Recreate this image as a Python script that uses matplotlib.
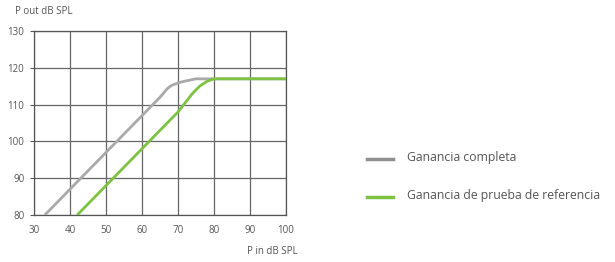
import matplotlib
matplotlib.use("Agg")
import matplotlib.pyplot as plt

# curve data
full_x = [33, 37, 40, 45, 50, 55, 60, 65, 67, 68, 70, 72, 75, 80, 100]
full_y = [80, 84, 87, 92, 97, 102, 107, 112, 114.3, 115.1, 115.9, 116.4, 117, 117, 117]
ref_x = [42, 45, 50, 55, 60, 65, 70, 72, 74, 76, 78, 80, 100]
ref_y = [80, 83, 88, 93, 98, 103, 108, 110.5, 113, 115, 116.3, 117, 117]

labels = ["Ganancia completa", "Ganancia de prueba de referencia"]
grey = "#a9a9a9"
green = "#7dc242"
txt = "#555555"

plt.rcParams["font.family"] = ["Open Sans", "DejaVu Sans"]

fig = plt.figure(figsize=(6.15, 2.62), dpi=100)
ax = fig.add_axes([34 / 615, 1 - 215 / 262, 252 / 615, 184 / 262])

ax.plot(full_x, full_y, color=grey, lw=2.0, solid_capstyle="butt", zorder=3)
ax.plot(ref_x, ref_y, color=green, lw=2.0, solid_capstyle="butt", zorder=3)

ax.set_xlim(30, 100)
ax.set_ylim(80, 130)
ax.set_xticks(range(30, 101, 10))
ax.set_yticks(range(80, 131, 10))
ax.grid(True, color="#666666", lw=0.9)
for s in ax.spines.values():
    s.set_color("#555555")
    s.set_linewidth(0.9)
ax.tick_params(labelsize=7, colors=txt, length=3, width=0.8, pad=4)
ax.tick_params(axis="x", length=0, pad=7)

fig.text(15 / 615, 1 - 12 / 262, "P out dB SPL", fontsize=7, color=txt, va="center")
fig.text(298 / 615, 1 - 252 / 262, "P in dB SPL", fontsize=7, color=txt, va="center", ha="right")

# legend drawn by hand at the right side
for lbl, col, yy in zip(labels, ["#8f8f8f", green], [159, 197]):
    fig.lines.append(plt.Line2D([367 / 615, 393 / 615], [1 - yy / 262] * 2,
                                transform=fig.transFigure, color=col, lw=2.5))
    fig.text(407 / 615, 1 - (yy - 1) / 262, lbl, fontsize=8.8, color=txt, va="center")

fig.savefig("out.png", dpi=100)
